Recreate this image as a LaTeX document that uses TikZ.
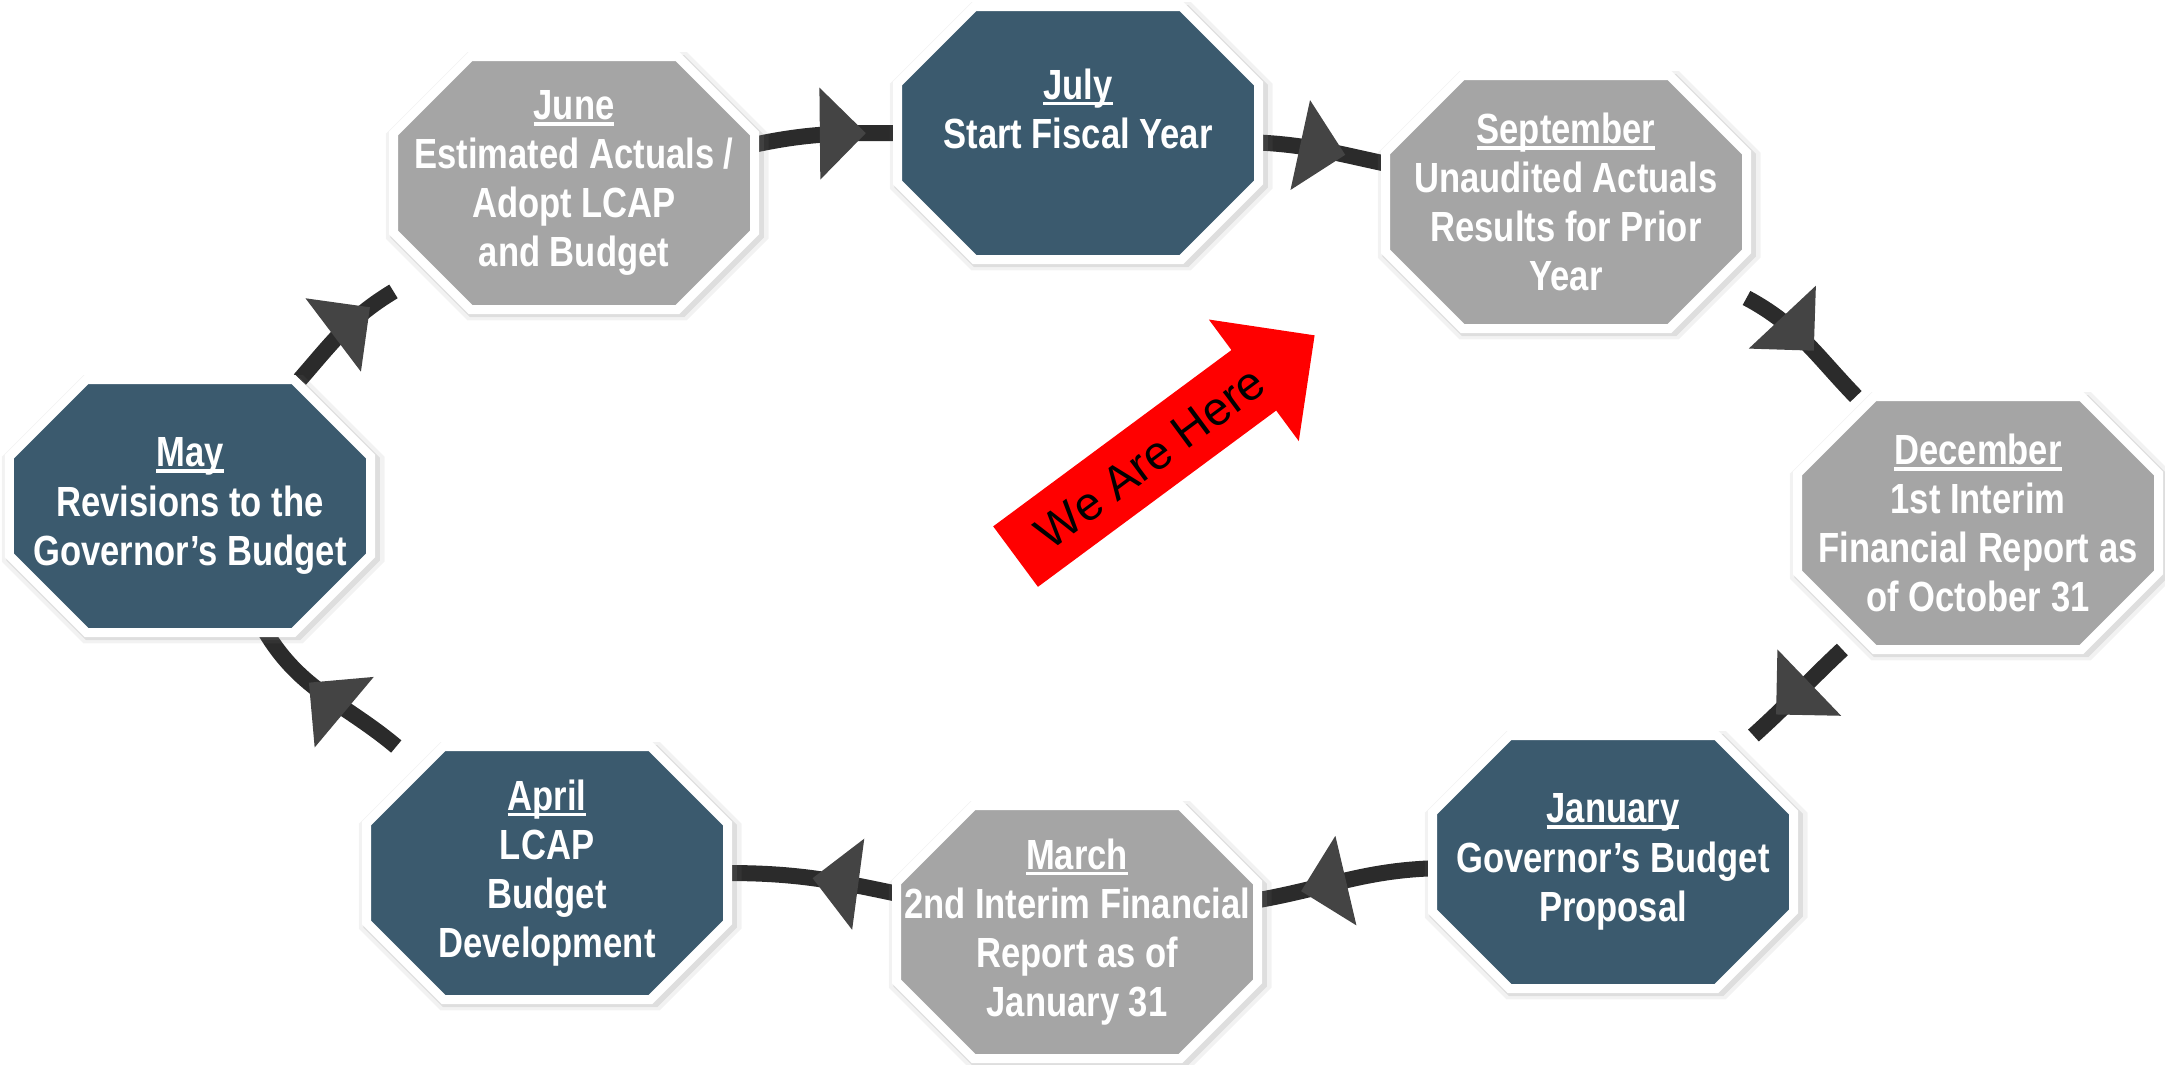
\documentclass[tikz,border=0pt]{standalone}
\usepackage{fontspec}
\setmainfont{Liberation Sans}[FakeStretch=0.82]
\newfontfamily\herefont{Liberation Sans}
\usetikzlibrary{arrows.meta}
\usetikzlibrary{shapes.arrows,shadows,decorations.markings,backgrounds}
\definecolor{monthblue}{RGB}{59,90,110}
\definecolor{monthgray}{RGB}{165,165,165}
\definecolor{ringdark}{RGB}{43,43,43}
\definecolor{tipdark}{RGB}{68,68,68}
\definecolor{herered}{RGB}{255,0,0}
\newcommand\mhead[1]{\setbox0\hbox{#1}\rlap{\rule[-1.8pt]{\wd0}{1.1pt}}\box0}
\makeatletter
\pgfkeys{/pgf/octo cut/.initial=0.77cm}
\pgfdeclareshape{octobox}{%
\inheritsavedanchors[from=rectangle]%
\inheritanchorborder[from=rectangle]%
\inheritanchor[from=rectangle]{center}%
\inheritanchor[from=rectangle]{north}%
\inheritanchor[from=rectangle]{south}%
\inheritanchor[from=rectangle]{east}%
\inheritanchor[from=rectangle]{west}%
\backgroundpath{%
\southwest\edef\octoxa{\the\pgf@x}\edef\octoya{\the\pgf@y}%
\northeast\edef\octoxb{\the\pgf@x}\edef\octoyb{\the\pgf@y}%
\pgfmathsetmacro\octoc{\pgfkeysvalueof{/pgf/octo cut}}%
\pgfpathmoveto{\pgfpoint{\octoxa}{\octoya+\octoc}}%
\pgfpathlineto{\pgfpoint{\octoxa}{\octoyb-\octoc}}%
\pgfpathlineto{\pgfpoint{\octoxa+\octoc}{\octoyb}}%
\pgfpathlineto{\pgfpoint{\octoxb-\octoc}{\octoyb}}%
\pgfpathlineto{\pgfpoint{\octoxb}{\octoyb-\octoc}}%
\pgfpathlineto{\pgfpoint{\octoxb}{\octoya+\octoc}}%
\pgfpathlineto{\pgfpoint{\octoxb-\octoc}{\octoya}}%
\pgfpathlineto{\pgfpoint{\octoxa+\octoc}{\octoya}}%
\pgfpathclose}%
}
\makeatother
\tikzset{octo/.style={octobox, minimum width=3.61cm, minimum height=2.53cm, inner sep=0pt, outer sep=0pt, draw=white, line width=0.09cm, text=white, align=center, font=\fontsize{12pt}{14pt}\selectfont\bfseries, drop shadow={shadow scale=1.06, shadow xshift=0.03cm, shadow yshift=-0.03cm, opacity=0.1}, drop shadow={shadow scale=1.035, shadow xshift=0.03cm, shadow yshift=-0.03cm, opacity=0.18}}, blue month/.style={octo, fill=monthblue}, gray month/.style={octo, fill=monthgray}, flow/.style={draw=ringdark, line width=0.16cm, postaction={decorate}, decoration={markings, mark=at position #1 with {\arrow[tipdark]{Triangle[length=0.46cm,width=0.92cm,line width=0pt]}}}}, here arrow/.style={single arrow, fill=herered, minimum height=3.72cm, single arrow head extend=0.38cm, inner xsep=2pt, inner ysep=5.7pt, text height=9.6pt, text depth=0pt, font=\herefont\fontsize{13.4pt}{16pt}\selectfont}}

\begin{document}
\begin{tikzpicture}
\useasboundingbox (0,0) rectangle (21.65,-10.64);
% the months of the fiscal year
\node[gray month] (june) at (5.74,-1.83) {\mhead{June}\\Estimated Actuals /\\Adopt LCAP\\and Budget};
\node[blue month] (july) at (10.78,-1.33) {\mhead{July}\\Start Fiscal Year\\\mbox{}};
\node[gray month] (sept) at (15.66,-2.02) {\mhead{September}\\Unaudited Actuals\\Results for Prior\\Year};
\node[gray month] (dec) at (19.78,-5.23) {\mhead{December}\\1st Interim\\Financial Report as\\of October 31};
\node[blue month] (jan) at (16.13,-8.62) {\mhead{January}\\Governor’s Budget\\Proposal};
\node[gray month] (march) at (10.77,-9.32) {\mhead{March}\\2nd Interim Financial\\Report as of\\January 31};
\node[blue month] (april) at (5.47,-8.73) {\mhead{April}\\LCAP\\Budget\\Development};
\node[blue month] (may) at (1.90,-5.06) {\mhead{May}\\Revisions to the\\Governor’s Budget};
% the ring
\begin{scope}[on background layer]
\draw[flow=0.78] (june) to[out=12,in=180] (july);
\draw[flow=0.68] (july) to[out=-3,in=168] (sept);
\draw[flow=0.58] (sept) to[out=-28,in=134] (dec);
\draw[flow=0.75] (dec) to[out=223,in=42] (jan);
\draw[flow=0.75] (jan) to[out=182,in=10] (march);
\draw[flow=0.5] (march) to[out=168,in=0] (april);
\draw[flow=0.62] (april) to[out=140,in=-59] (may);
\draw[flow=0.78] (may) to[out=49,in=211] (june);
\end{scope}
\node[here arrow, rotate=36.5, anchor=tail] (here) at (10.15,-5.57) {We Are Here};
\end{tikzpicture}
\end{document}
